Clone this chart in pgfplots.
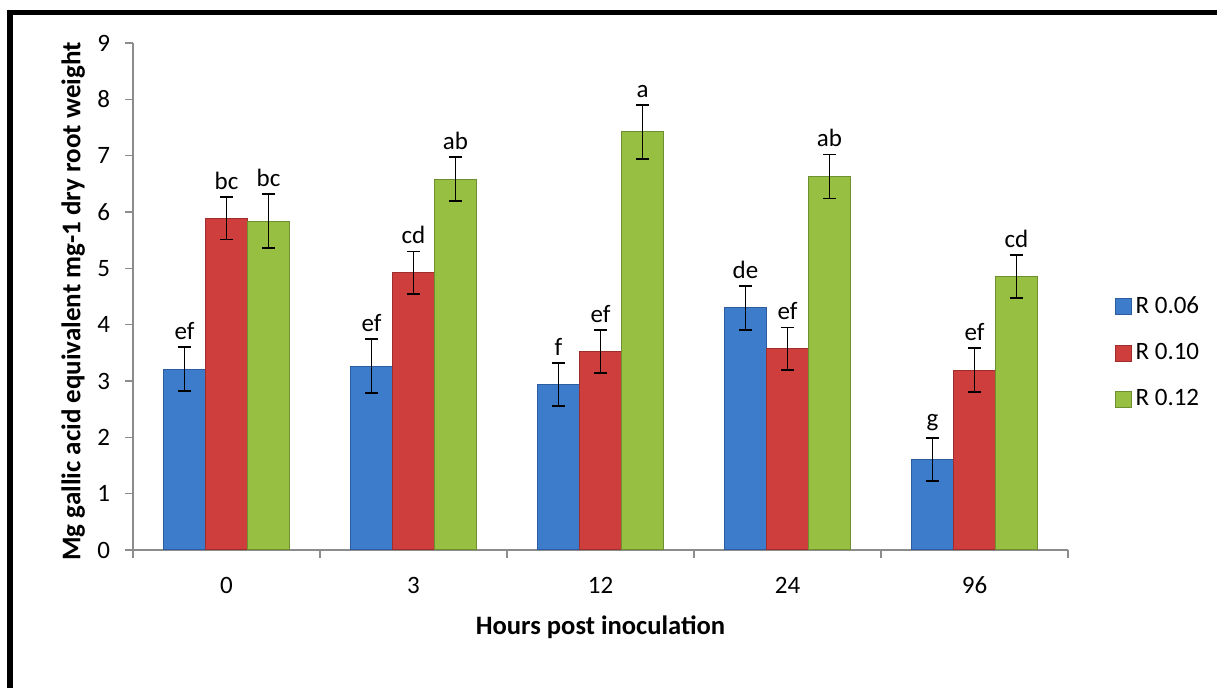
\documentclass[border=0pt]{standalone}
\usepackage{pgfplots}
\pgfplotsset{compat=1.18}
\usepackage{pgfplotstable}
\usepackage{fontspec}
\setmainfont{Carlito}

\definecolor{axisgray}{HTML}{8C8C8C}
\definecolor{bluemid}{HTML}{3D7CCB}
\definecolor{bluedark}{HTML}{2C5D9E}
\definecolor{redmid}{HTML}{CD3E3C}
\definecolor{reddark}{HTML}{9E2D2B}
\definecolor{greenmid}{HTML}{97BF41}
\definecolor{greendark}{HTML}{6F8E30}

% x = group index (0, 3, 12, 24, 96 h), y = mean, err = +/- error, lab = letter
\pgfplotstableread{
x y err lab
0 3.21 0.39 ef
1 3.26 0.48 ef
2 2.94 0.38 f
3 4.30 0.39 de
4 1.61 0.38 g
}\rsix
\pgfplotstableread{
x y err lab
0 5.89 0.38 bc
1 4.92 0.38 cd
2 3.52 0.38 ef
3 3.57 0.38 ef
4 3.19 0.39 ef
}\rten
\pgfplotstableread{
x y err lab
0 5.84 0.48 bc
1 6.58 0.39 ab
2 7.42 0.48 a
3 6.63 0.39 ab
4 4.85 0.38 cd
}\rtwelve

\begin{document}
\begin{tikzpicture}
\useasboundingbox (0pt,0pt) rectangle (608.5pt,344pt);
\draw[line width=2.6pt] (5pt,-5pt) -- (5pt,337.75pt) -- (615pt,337.75pt);
\begin{axis}[
    at={(66.5pt,69pt)}, anchor=south west,
    scale only axis, width=467.5pt, height=253.5pt,
    xmin=-0.5, xmax=4.5, ymin=0, ymax=9,
    axis x line*=bottom, axis y line*=left,
    axis line style={draw=axisgray, line width=0.7pt},
    ytick={0,1,...,9},
    xtick={0,1,2,3,4}, xticklabels={0,3,12,24,96},
    minor xtick={-0.5,0.5,1.5,2.5,3.5,4.5},
    major x tick style={draw=none},
    tick align=outside,
    major tick length=4pt, minor tick length=4pt,
    tick style={draw=axisgray, line width=0.7pt},
    tick label style={font=\fontsize{12.5}{14}\selectfont},
    /pgf/number format/assume math mode=true,
    yticklabel style={xshift=-4pt},
    xticklabel style={yshift=-6pt},
    xlabel={Hours post inoculation},
    ylabel={Mg gallic acid equivalent mg-1 dry root weight},
    xlabel style={at={(axis description cs:0.5,-0.152)}, anchor=center,
        font=\bfseries\fontsize{13.3}{15}\selectfont},
    ylabel style={at={(axis description cs:-0.064,0.49)}, anchor=center,
        font=\bfseries\fontsize{13.5}{15}\selectfont},
    ybar=0pt, bar width=21pt,
    error bars/y dir=both, error bars/y explicit,
    error bars/error bar style={draw=black, line width=0.9pt},
    error bars/error mark options={rotate=90, mark size=3.2pt, draw=black, line width=0.9pt},
    point meta=explicit symbolic,
    nodes near coords,
    visualization depends on={28.1667*\thisrow{err} \as \errpt},
    nodes near coords style={anchor=south, yshift=\errpt pt+1.5pt, text=black, inner sep=2pt,
        font=\fontsize{12.5}{14}\selectfont},
    legend style={at={(1.043,0.389)}, anchor=west, draw=none, fill=none,
        font=\fontsize{12.5}{14}\selectfont, row sep=9.5pt},
    legend cell align=left,
    legend image code/.code={\filldraw[#1] (0pt,-4pt) rectangle (8pt,4pt);},
]
\addplot[fill=bluemid, draw=bluedark, line width=0.5pt]
    table[x=x, y=y, y error=err, meta=lab] {\rsix};
\addplot[fill=redmid, draw=reddark, line width=0.5pt]
    table[x=x, y=y, y error=err, meta=lab] {\rten};
\addplot[fill=greenmid, draw=greendark, line width=0.5pt]
    table[x=x, y=y, y error=err, meta=lab] {\rtwelve};
\legend{R 0.06, R 0.10, R 0.12}
\end{axis}
\end{tikzpicture}
\end{document}
